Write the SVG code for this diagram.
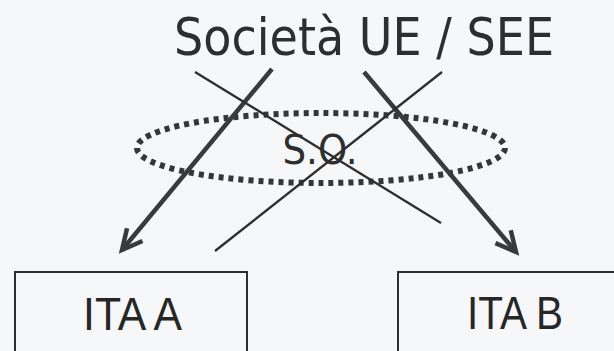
<svg xmlns="http://www.w3.org/2000/svg" width="614" height="351" viewBox="0 0 614 351">
  <defs>
    <style>
      .title { font-family: "DejaVu Sans", Verdana, sans-serif; font-size: 52px; fill: #2e2e2e; }
      .so { font-family: "DejaVu Sans", Verdana, sans-serif; font-size: 41px; fill: #2e2e2e; }
      .lbl { font-family: "Liberation Sans", Arial, sans-serif; font-size: 46px; fill: #262626; }
      .box { fill: none; stroke: #2e2e2e; stroke-width: 2; }
      .thick { stroke: #3a3a3a; stroke-width: 4.5; fill: none; }
      .thin { stroke: #2e2e2e; stroke-width: 2.3; fill: none; }
      .dots { fill: none; stroke: #363636; stroke-width: 6; stroke-dasharray: 5 5; }
    </style>
    <marker id="arr" markerUnits="userSpaceOnUse" viewBox="-26 -14 30 28" refX="0" refY="0" markerWidth="30" markerHeight="28" orient="auto" overflow="visible">
      <path d="M-20,-10 L0,0 L-20,10" fill="none" stroke="#3a3a3a" stroke-width="4.5" stroke-linejoin="miter"/>
    </marker>
  </defs>
  <rect width="614" height="351" fill="#f6f7f9"/>

  <g id="title">
    <text class="title" x="364" y="55" text-anchor="middle" textLength="380" lengthAdjust="spacingAndGlyphs">Società UE / SEE</text>
  </g>

  <g id="so">
    <ellipse class="dots" cx="321" cy="148" rx="184" ry="35"/>
    <text class="so" x="320" y="164" text-anchor="middle" textLength="75" lengthAdjust="spacingAndGlyphs">S.O.</text>
  </g>

  <g id="ita-a">
    <rect class="box" x="15" y="272" width="232" height="100"/>
    <text class="lbl" x="132.5" y="330" text-anchor="middle" textLength="99" lengthAdjust="spacingAndGlyphs">ITA A</text>
  </g>

  <g id="ita-b">
    <rect class="box" x="398" y="272" width="240" height="100"/>
    <text class="lbl" x="515" y="329" text-anchor="middle" textLength="96" lengthAdjust="spacingAndGlyphs">ITA B</text>
  </g>

  <g id="connectors">
    <line class="thick" x1="272" y1="69" x2="122" y2="250" marker-end="url(#arr)"/>
    <line class="thick" x1="364" y1="72" x2="516" y2="252" marker-end="url(#arr)"/>
    <line class="thin" x1="195" y1="72" x2="441" y2="223"/>
    <line class="thin" x1="442" y1="72" x2="215" y2="251"/>
  </g>
</svg>
